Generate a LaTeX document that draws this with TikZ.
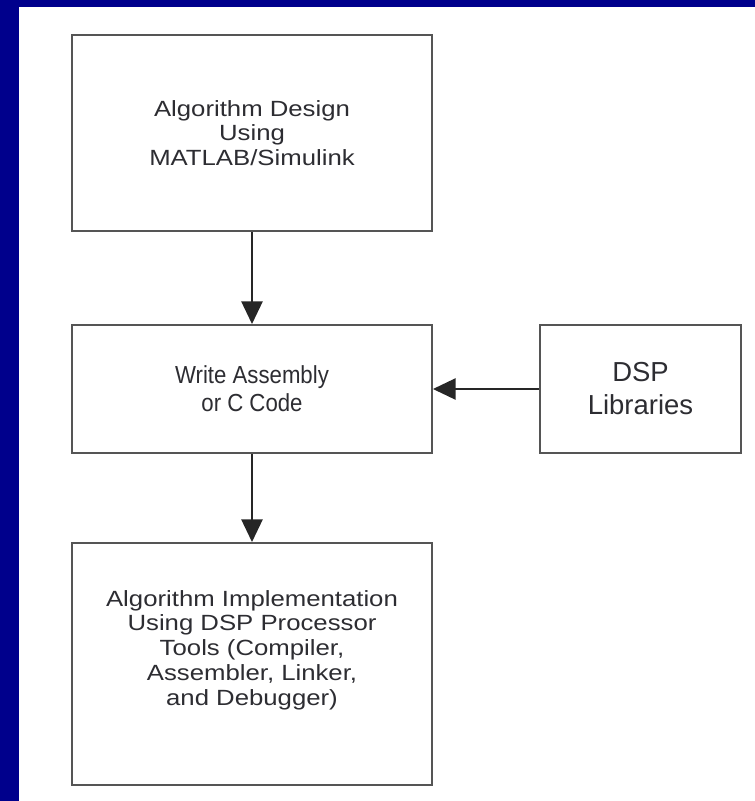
\documentclass[tikz,border=0pt]{standalone}
\usepackage{fontspec}
\setmainfont{Liberation Sans}
\newfontfamily\widesans{Liberation Sans}[FakeStretch=1.17]
\newfontfamily\narrowsans{Liberation Sans}[FakeStretch=0.9]
\usetikzlibrary{arrows.meta}
\definecolor{navy}{RGB}{0,0,140}
\definecolor{boxline}{RGB}{85,85,85}
\definecolor{txt}{RGB}{45,45,50}
\tikzset{
  box/.style={draw=boxline, line width=1.5pt, fill=white, rectangle, align=center,
    text=txt, inner sep=0pt},
  widetext/.style={align=center, text=txt, inner sep=0pt,
    font=\widesans\fontsize{16.5pt}{18.6pt}\selectfont},
  midtext/.style={font=\narrowsans\fontsize{18.5pt}{21pt}\selectfont},
  bigtext/.style={font=\fontsize{20.6pt}{24.8pt}\selectfont},
  conn/.style={draw=black!85, line width=1.1pt, -{Triangle[length=17pt,width=16pt]}}
}
\begin{document}
\begin{tikzpicture}[x=0.75pt,y=-0.75pt]
\useasboundingbox (0,0) rectangle (755,801);
\fill[navy] (0,0) rectangle (755,801);
\fill[white] (19,7) rectangle (755,801);
\node[box, minimum width=270pt, minimum height=147pt] (b1) at (252,133) {};
\node[widetext] (t1) at (252,133) {Algorithm Design\\Using\\MATLAB/Simulink};
\node[box, midtext, minimum width=270pt, minimum height=96pt] (b2) at (252,389)
  {Write Assembly\\or C Code};
\node[box, bigtext, minimum width=150.75pt, minimum height=96pt] (b3) at (640.5,389)
  {DSP\\Libraries};
\node[box, minimum width=270pt, minimum height=181.5pt] (b4) at (252,664) {};
\node[widetext] (t4) at (252,650)
  {Algorithm Implementation\\Using DSP Processor\\Tools (Compiler,\\Assembler, Linker,\\and Debugger)};
\draw[conn] (b1.south) -- (b2.north);
\draw[conn] (b2.south) -- (b4.north);
\draw[conn] (b3.west) -- (b2.east);
\end{tikzpicture}
\end{document}
